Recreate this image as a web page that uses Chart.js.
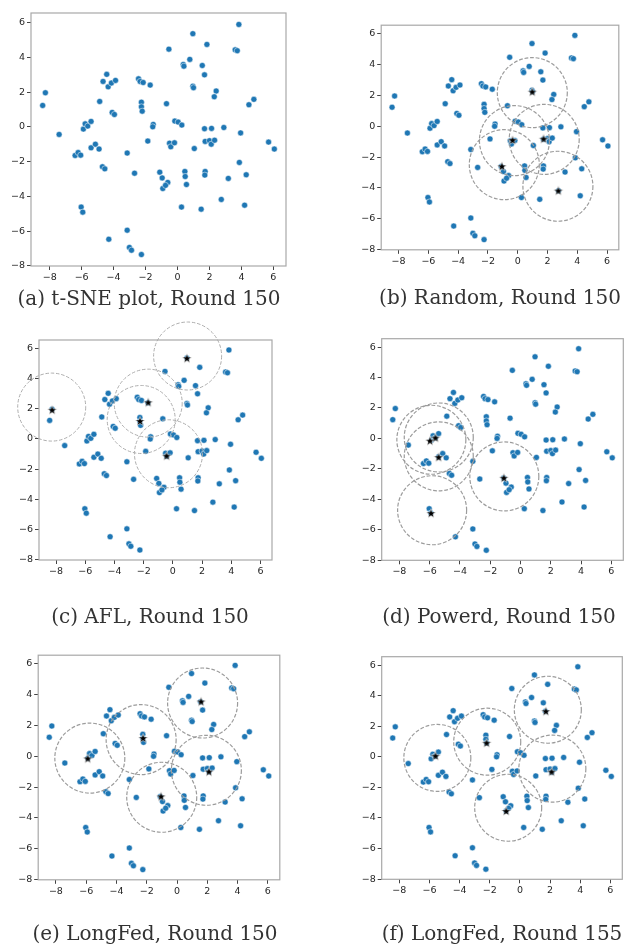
<!DOCTYPE html>
<html>
<head>
<meta charset="utf-8">
<script src="https://cdn.jsdelivr.net/npm/chart.js@4.4.1/dist/chart.umd.min.js"></script>
<style>
  html, body { margin: 0; padding: 0; background: #fff; }
  #fig { position: relative; width: 636px; height: 946px; overflow: hidden; }
  .panel { position: absolute; }
  .cap { position: absolute; width: 320px; text-align: center; font-family: "DejaVu Serif", serif;
         font-size: 20px; line-height: 24px; color: #333; white-space: nowrap; }
</style>
</head>
<body>
<div id="fig"></div>
<script>
// t-SNE embedding of the clients (same in every panel)
const clientX = [-8.27, -8.44, -7.41, -5.89, -5.78, -5.62, -5.41, -5.41, -5.14, -4.91,
  -4.87, -4.66, -4.43, -4.34, -4.14, -3.88, -4.09, -3.95, -2.44, -2.34,
  -2.15, -1.71, -2.26, -2.26, -2.21, -1.52, -1.55, -1.86, -0.54, 0.96,
  1.84, 3.84, 3.61, 3.74, 0.77, 0.36, 0.40, 1.55, 1.69, 0.96,
  1.00, 2.42, 2.30, 4.78, 4.47, -0.69, -0.17, 0.04, 0.27, 1.69,
  2.13, 2.90, 3.95, -0.50, -0.42, -0.19, 1.05, 1.73, 2.00, 2.11,
  2.32, 5.70, 6.06, -6.41, -6.22, -6.06, -3.15, -4.70, -4.55, -2.69,
  -1.11, -6.03, -5.93, -3.15, -4.30, -3.01, -2.88, -2.26, -0.96, -0.92,
  -0.61, -0.75, 0.46, 0.48, 0.56, 1.73, 1.71, 3.18, 3.87, 4.30,
  2.74, 4.20, 0.25, 1.48];
const clientY = [1.96, 1.23, -0.44, -0.13, 0.17, 0.04, 0.31, -1.21, -1.00, -1.28,
  1.46, 2.61, 3.02, 2.30, 2.52, 2.67, 0.83, 0.71, 2.76, 2.61,
  2.55, 2.40, 1.42, 1.15, 0.90, 0.14, 0.00, -0.82, 4.47, 5.36,
  4.74, 5.89, 4.43, 4.38, 3.88, 3.59, 3.49, 3.53, 2.99, 2.34,
  2.25, 2.06, 1.73, 1.58, 1.27, 1.33, 0.33, 0.27, 0.10, -0.11,
  -0.09, -0.04, -0.35, -0.94, -1.15, -0.92, -1.25, -0.84, -0.80, -1.00,
  -0.77, -0.88, -1.28, -1.65, -1.48, -1.63, -1.51, -2.30, -2.42, -2.67,
  -2.61, -4.62, -4.91, -5.95, -6.47, -6.94, -7.10, -7.35, -2.94, -3.55,
  -3.20, -3.37, -2.57, -2.86, -3.32, -2.57, -2.78, -2.97, -2.05, -2.76,
  -4.18, -4.51, -4.62, -4.74];

const xTicks = [-8, -6, -4, -2, 0, 2, 4, 6];
const yTicks = [-8, -6, -4, -2, 0, 2, 4, 6];
const xRange = [-9.17, 6.79];
const yRange = [-8.01, 6.55];

// selected cluster heads (stars) and their neighbourhoods (rings), per method
const randomStars = [[0.98, 2.24], [-0.35, -0.89], [1.74, -0.81], [-1.06, -2.59], [2.73, -4.17]];
const randomRings = [[0.98, 2.18], [-0.22, -0.93], [1.78, -0.85], [-0.90, -2.49], [2.70, -3.89]];
const aflStars = [[-8.27, 1.93], [-1.69, 2.43], [-2.25, 1.19], [0.96, 5.35], [-0.43, -1.11]];
const aflRings = [[-8.30, 2.11], [1.01, 5.49], [-1.69, 2.37], [-2.17, 1.29], [-0.30, -0.98]];
const powerdStars = [[-5.98, -0.15], [-5.62, 0.05], [-5.41, -1.23], [-1.10, -2.59], [-5.91, -4.91]];
const powerdRings = [[-5.89, -0.09], [-5.40, 0.06], [-5.40, -1.18], [-1.07, -2.50], [-5.84, -4.72]];
const longfed150Stars = [[-5.90, -0.14], [-2.24, 1.18], [1.59, 3.55], [2.11, -0.99], [-1.05, -2.60]];
const longfed150Rings = [[-5.76, -0.12], [-2.37, 1.08], [1.69, 3.45], [1.94, -0.91], [-1.01, -2.66]];
const longfed155Stars = [[-5.60, 0.07], [-2.21, 0.92], [1.72, 2.99], [2.10, -0.97], [-0.91, -3.54]];
const longfed155Rings = [[-5.48, -0.07], [-2.17, 0.99], [1.85, 3.08], [2.15, -0.77], [-0.78, -3.33]];

const captions = ["(a) t-SNE plot, Round 150", "(b) Random, Round 150", "(c) AFL, Round 150",
  "(d) Powerd, Round 150", "(e) LongFed, Round 150", "(f) LongFed, Round 155"];

// layout: plot frame [left, top, right, bottom] and caption centre, in page pixels
const panels = [
  { frame: [31, 13, 286, 266], cap: [149, 298], stars: [], rings: [], ringR: 35 },
  { frame: [379, 13, 631, 264], cap: [500, 297], stars: randomStars, rings: randomRings, ringR: 35 },
  { frame: [38, 329, 283, 573], cap: [150, 616], stars: aflStars, rings: aflRings, ringR: 34, light: true },
  { frame: [380, 327, 635, 574], cap: [499, 616], stars: powerdStars, rings: powerdRings, ringR: 34.5 },
  { frame: [36, 643, 292, 894], cap: [155, 933], stars: longfed150Stars, rings: longfed150Rings, ringR: 35 },
  { frame: [381, 646, 633, 892], cap: [502, 933], stars: longfed155Stars, rings: longfed155Rings, ringR: 33.5 },
];

const YW = 34, XH = 22, PAD = 24;
const fmt = (v) => (v < 0 ? "\u2212" + Math.abs(v) : String(v));
const toPts = (arr) => arr.map(([x, y]) => ({ x, y }));

function makeStar() {
  const c = document.createElement("canvas");
  c.width = c.height = 12;
  const g = c.getContext("2d");
  g.beginPath();
  for (let i = 0; i < 10; i++) {
    const r = i % 2 ? 1.95 : 4.9;
    const a = -Math.PI / 2 + (i * Math.PI) / 5;
    g.lineTo(6 + r * Math.cos(a), 6.5 + r * Math.sin(a));
  }
  g.closePath();
  g.fillStyle = "#000";
  g.fill();
  g.strokeStyle = "#fff";
  g.lineWidth = 0.5;
  g.stroke();
  return c;
}
const starImg = makeStar();

const dashPlugin = {
  id: "dashRings",
  beforeDatasetDraw(chart, args) {
    const ds = chart.data.datasets[args.index];
    if (ds.dashed) { chart.ctx.save(); chart.ctx.setLineDash(ds.dashed); }
  },
  afterDatasetDraw(chart, args) {
    if (chart.data.datasets[args.index].dashed) chart.ctx.restore();
  },
};

const framePlugin = {
  id: "frame",
  afterDatasetsDraw(chart) {
    const { ctx, chartArea: a } = chart;
    ctx.save();
    ctx.strokeStyle = "#a8a8a8";
    ctx.lineWidth = 1.2;
    ctx.strokeRect(a.left, a.top, a.right - a.left, a.bottom - a.top);
    ctx.restore();
  },
};

const fig = document.getElementById("fig");

function axis(ticks, range, fit) {
  return {
    type: "linear",
    min: range[0],
    max: range[1],
    afterBuildTicks: (s) => { s.ticks = ticks.map((v) => ({ value: v })); },
    afterFit: fit,
    border: { display: false },
    grid: { display: true, drawOnChartArea: false, drawTicks: true, tickLength: 4, tickColor: "#444", lineWidth: 1 },
    ticks: { callback: fmt, padding: 2, color: "#262626", font: { family: "DejaVu Sans", size: 9.5 }, maxRotation: 0, autoSkip: false },
  };
}

panels.forEach((p, i) => {
  const [l, t, r, b] = p.frame;
  const div = document.createElement("div");
  div.className = "panel";
  div.style.left = l - YW + "px";
  div.style.top = t - PAD + "px";
  const cv = document.createElement("canvas");
  cv.width = r - l + YW + PAD;
  cv.height = b - t + PAD + XH;
  div.appendChild(cv);
  fig.appendChild(div);

  const cap = document.createElement("div");
  cap.className = "cap";
  cap.textContent = captions[i];
  cap.style.left = p.cap[0] - 160 + "px";
  cap.style.top = p.cap[1] - 12.5 + "px";
  fig.appendChild(cap);

  new Chart(cv, {
    type: "scatter",
    data: {
      datasets: [
        {
          data: clientX.map((x, k) => ({ x, y: clientY[k] })),
          pointRadius: 3.0, pointBackgroundColor: "#1f77b4", pointBorderColor: "#ffffff", pointBorderWidth: 0.5, order: 3,
        },
        {
          data: toPts(p.rings), pointRadius: p.ringR, pointBackgroundColor: "rgba(0,0,0,0)",
          pointBorderColor: p.light ? "#adadad" : "#9c9c9c", pointBorderWidth: p.light ? 1.0 : 1.2,
          dashed: p.light ? [3.5, 1.8] : [3.8, 1.8], clip: false, order: 2,
        },
        { data: toPts(p.stars), pointStyle: starImg, pointRadius: 6, clip: false, order: 1 },
      ],
    },
    options: {
      responsive: false,
      animation: false,
      events: [],
      layout: { padding: { top: PAD, right: PAD, left: 0, bottom: 0 } },
      plugins: { legend: { display: false }, tooltip: { enabled: false } },
      scales: {
        x: axis(xTicks, xRange, (s) => { s.height = XH; }),
        y: axis(yTicks, yRange, (s) => { s.width = YW; }),
      },
    },
    plugins: [dashPlugin, framePlugin],
  });
});
</script>
</body>
</html>
